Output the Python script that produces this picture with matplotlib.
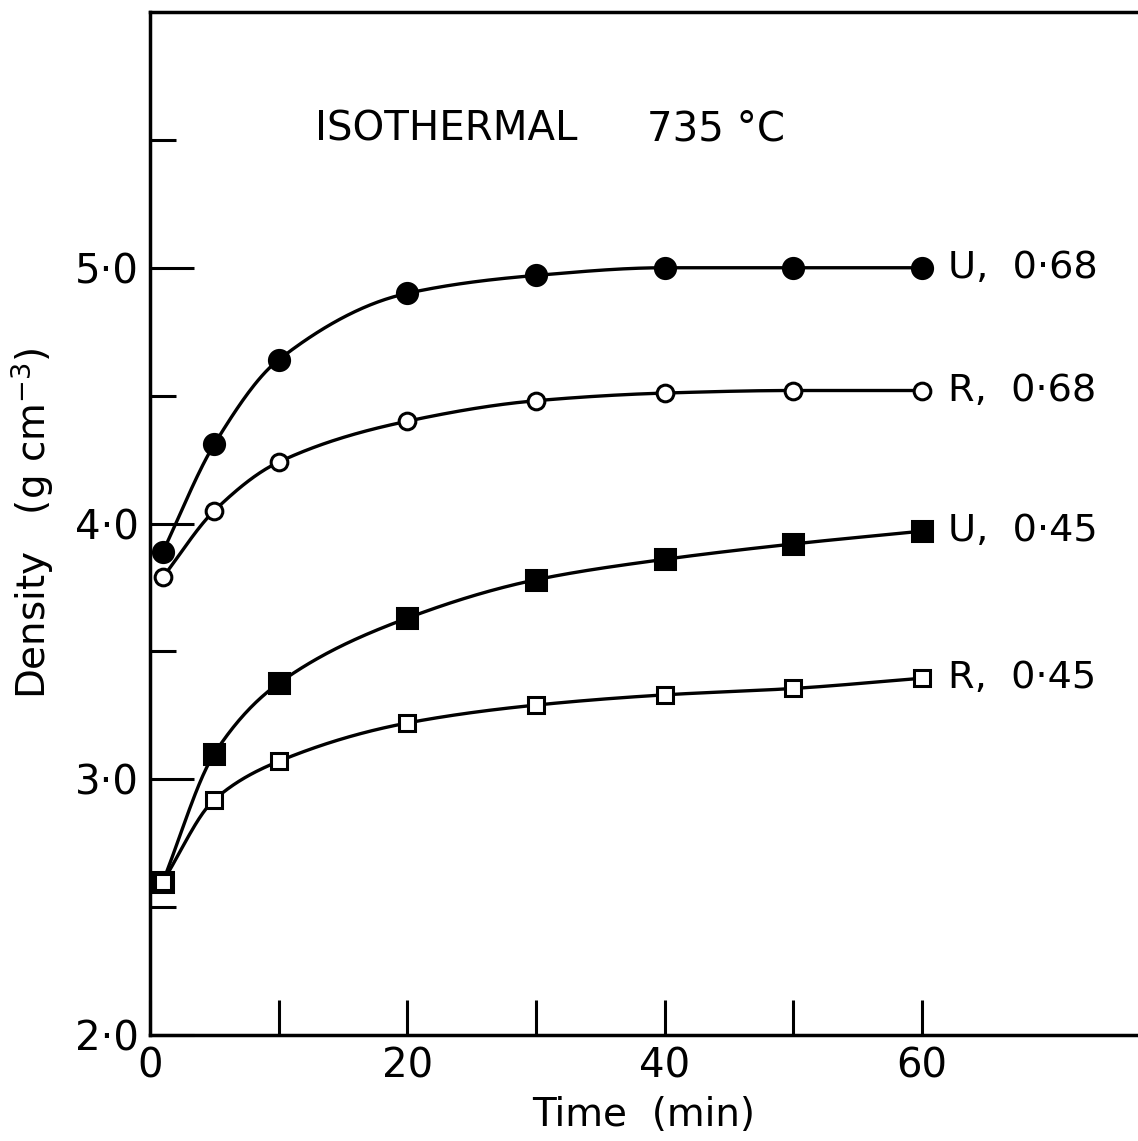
import numpy as np
import matplotlib
matplotlib.use('Agg')
from matplotlib import pyplot as plt

# time (min)
t = [1, 5, 10, 20, 30, 40, 50, 60]

u068 = [3.89, 4.31, 4.64, 4.90, 4.97, 5.00, 5.00, 5.00]
r068 = [3.79, 4.05, 4.24, 4.40, 4.48, 4.51, 4.52, 4.52]
u045 = [2.60, 3.10, 3.375, 3.63, 3.78, 3.86, 3.92, 3.97]
r045 = [2.60, 2.92, 3.07, 3.22, 3.29, 3.33, 3.355, 3.395]

labels = ['U,  0·68', 'R,  0·68', 'U,  0·45', 'R,  0·45']
ytick_vals = [2.0, 3.0, 4.0, 5.0]
ytick_labels = ['2·0', '3·0', '4·0', '5·0']


def pchip(x, y, xn):
	# monotone cubic through the points, so the line looks hand-drawn smooth
	x = np.asarray(x, float)
	y = np.asarray(y, float)
	h = np.diff(x)
	d = np.diff(y) / h
	m = np.zeros_like(y)
	for k in range(1, len(x) - 1):
		if d[k - 1] * d[k] > 0:
			w1 = 2 * h[k] + h[k - 1]
			w2 = h[k] + 2 * h[k - 1]
			m[k] = (w1 + w2) / (w1 / d[k - 1] + w2 / d[k])
	m[0] = d[0]
	m[-1] = d[-1]
	i = np.clip(np.searchsorted(x, xn) - 1, 0, len(x) - 2)
	s = (xn - x[i]) / h[i]
	h00 = 2 * s**3 - 3 * s**2 + 1
	h10 = s**3 - 2 * s**2 + s
	h01 = -2 * s**3 + 3 * s**2
	h11 = s**3 - s**2
	return h00 * y[i] + h10 * h[i] * m[i] + h01 * y[i + 1] + h11 * h[i] * m[i + 1]


plt.rcParams['font.family'] = 'DejaVu Sans'
fig = plt.figure(figsize=(11.38, 11.41), dpi=100)
ax = fig.add_axes([150 / 1138, 106 / 1141, 988 / 1138, 1023 / 1141])

tt = np.linspace(t[0], t[-1], 400)
styles = [
	(u068, 'o', 'black', 14.5),
	(r068, 'o', 'white', 12),
	(u045, 's', 'black', 14),
	(r045, 's', 'white', 12),
]
for (vals, mk, fc, ms), lab in zip(styles, labels):
	ax.plot(tt, pchip(t, vals, tt), color='black', lw=2.4, zorder=2)
	ax.plot(t, vals, mk, ms=ms, mfc=fc, mec='black', mew=2.2, ls='none', zorder=3)
	ax.text(62.0, vals[-1], lab, fontsize=27.5, va='center', ha='left')

ax.text(12.8, 5.54, 'ISOTHERMAL', fontsize=29, va='center', ha='left')
ax.text(38.6, 5.54, '735 °C', fontsize=29, va='center', ha='left')

ax.set_xlim(0, 76.8)
ax.set_ylim(2.0, 6.0)
ax.spines['right'].set_visible(False)
for s in ['left', 'bottom', 'top']:
	ax.spines[s].set_linewidth(2.5)

ax.set_xticks(np.arange(0, 61, 10))
ax.set_xticklabels(['0', '', '20', '', '40', '', '60'])
ax.set_yticks(ytick_vals)
ax.set_yticklabels(ytick_labels)
ax.set_yticks([2.5, 3.5, 4.5, 5.5], minor=True)
ax.tick_params(axis='x', direction='in', length=25, width=2.2, labelsize=29, pad=8)
ax.tick_params(axis='y', which='major', direction='in', length=32, width=2.2, labelsize=29, pad=8)
ax.tick_params(axis='y', which='minor', direction='in', length=19, width=2.2)

ax.set_xlabel('Time  (min)', fontsize=28, labelpad=7)
ax.set_ylabel('Density   (g cm$^{-3}$)', fontsize=28, labelpad=14)

fig.savefig('out.png', dpi=100)
